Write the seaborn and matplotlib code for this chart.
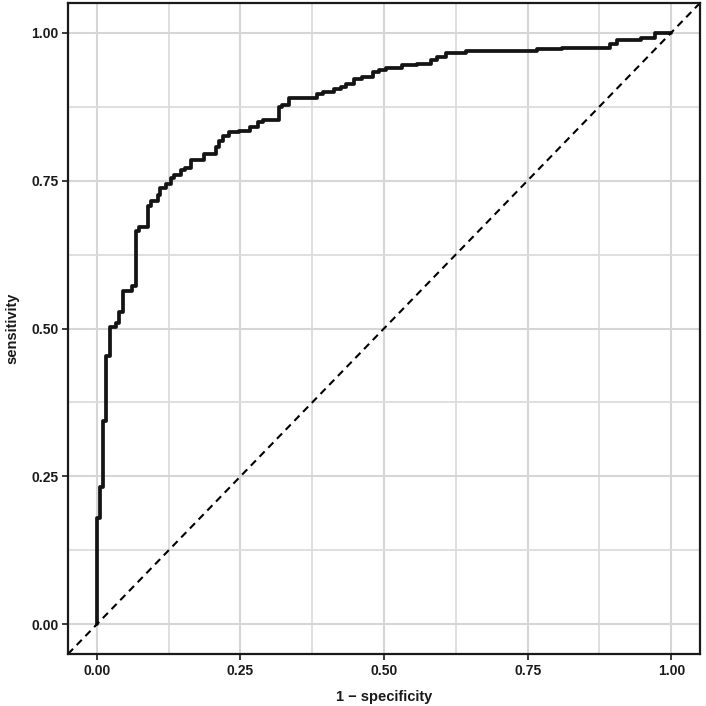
import numpy as np
import pandas as pd
import matplotlib
matplotlib.use("Agg")
import matplotlib.pyplot as plt
import seaborn as sns
from matplotlib.ticker import MultipleLocator

# ROC curve corner points (x = 1 - specificity, y = sensitivity)
fpr = [0.0, 0.0, 0.005, 0.011, 0.017, 0.0226, 0.034, 0.038, 0.045, 0.062,
       0.0677, 0.074, 0.089, 0.095, 0.106, 0.1105, 0.121, 0.1296, 0.135, 0.147,
       0.1528, 0.164, 0.186, 0.208, 0.2135, 0.219, 0.231, 0.248, 0.266, 0.28,
       0.289, 0.318, 0.323, 0.335, 0.384, 0.393, 0.413, 0.425, 0.4335, 0.448,
       0.462, 0.48, 0.491, 0.503, 0.532, 0.558, 0.581, 0.5925, 0.608, 0.642,
       0.766, 0.81, 0.8935, 0.905, 0.948, 0.9717, 1.0]
tpr = [0.0, 0.18, 0.232, 0.343, 0.453, 0.502, 0.51, 0.528, 0.564, 0.572,
       0.665, 0.671, 0.707, 0.716, 0.726, 0.737, 0.744, 0.755, 0.76, 0.767,
       0.772, 0.784, 0.795, 0.806, 0.8175, 0.826, 0.8316, 0.834, 0.840, 0.8486,
       0.853, 0.874, 0.878, 0.889, 0.8966, 0.8994, 0.905, 0.908, 0.913, 0.921,
       0.925, 0.933, 0.937, 0.9407, 0.9446, 0.947, 0.953, 0.9588, 0.9655, 0.969,
       0.9717, 0.9746, 0.98, 0.988, 0.9915, 1.0, 1.0]

roc = pd.DataFrame({"fpr": fpr, "tpr": tpr})

sns.set_theme(style="whitegrid")
plt.rcParams["font.family"] = ["Liberation Sans", "DejaVu Sans"]

fig = plt.figure(figsize=(7.06, 7.06), dpi=100)
ax = fig.add_axes([68 / 706, 52 / 706, 632 / 706, 651 / 706])

# ROC curve as step line, chance line corner to corner
sns.lineplot(data=roc, x="fpr", y="tpr", sort=False, estimator=None,
             drawstyle="steps-post", color="#141414", linewidth=2.7, ax=ax)
ax.axline((0, 0), slope=1, color="black", linestyle=(0, (3.5, 2.5)), linewidth=1.5)

ax.set_xlim(-0.05, 1.05)
ax.set_ylim(-0.05, 1.05)
ax.xaxis.set_major_locator(MultipleLocator(0.25))
ax.yaxis.set_major_locator(MultipleLocator(0.25))
ax.xaxis.set_minor_locator(MultipleLocator(0.125))
ax.yaxis.set_minor_locator(MultipleLocator(0.125))
ax.xaxis.set_major_formatter(plt.FuncFormatter(lambda v, p: f"{v:.2f}"))
ax.yaxis.set_major_formatter(plt.FuncFormatter(lambda v, p: f"{v:.2f}"))

ax.grid(which="major", color="#d6d6d6", linewidth=1.5)
ax.grid(which="minor", color="#dcdcdc", linewidth=1.3)
ax.set_axisbelow(True)
ax.set_facecolor("white")

for s in ax.spines.values():
    s.set_color("#1a1a1a")
    s.set_linewidth(1.6)

ax.tick_params(which="major", direction="out", length=4, width=1.2, color="#1a1a1a",
               labelsize=10, labelcolor="#1a1a1a", pad=3, bottom=True, left=True)
ax.tick_params(which="minor", length=0)
for lab in ax.get_xticklabels() + ax.get_yticklabels():
    lab.set_fontweight("bold")

ax.set_xlabel("1 \u2212 specificity", fontsize=10.5, fontweight="bold", color="#1a1a1a", labelpad=9)
ax.set_ylabel("sensitivity", fontsize=10.5, fontweight="bold", color="#1a1a1a", labelpad=8)

fig.savefig("out.png", dpi=100, facecolor="white")
